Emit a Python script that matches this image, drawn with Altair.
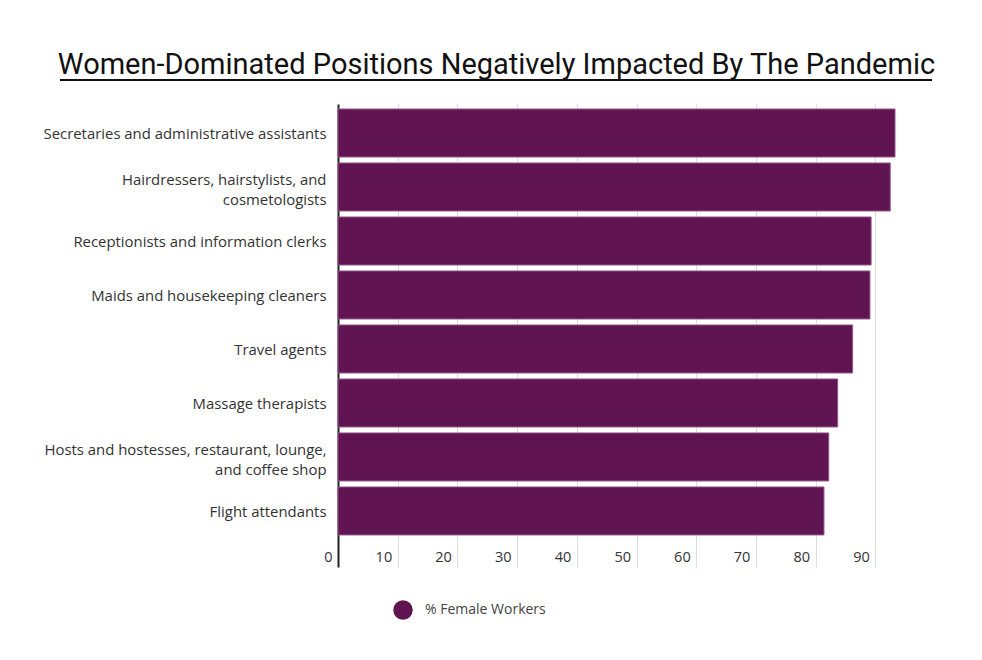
import altair as alt
import pandas as pd

categories = [
    "Secretaries and administrative assistants",
    "Hairdressers, hairstylists, and|cosmetologists",
    "Receptionists and information clerks",
    "Maids and housekeeping cleaners",
    "Travel agents",
    "Massage therapists",
    "Hosts and hostesses, restaurant, lounge,|and coffee shop",
    "Flight attendants",
]
values = [93.3, 92.5, 89.3, 89.1, 86.2, 83.7, 82.2, 81.4]
series = "% Female Workers"
x_ticks = [0, 10, 20, 30, 40, 50, 60, 70, 80, 90]
title_text = "Women-Dominated Positions Negatively Impacted By The Pandemic"

df = pd.DataFrame({"job": categories, "pct": values, "series": [series] * len(categories)})

bars = (
    alt.Chart(df)
    .mark_bar(stroke="#93558a", strokeWidth=1)
    .encode(
        x=alt.X(
            "pct:Q",
            scale=alt.Scale(domain=[0, 100], nice=False),
            axis=alt.Axis(
                values=x_ticks,
                title=None,
                domain=False,
                ticks=False,
                grid=True,
                gridColor="#dddddd",
                gridWidth=1,
                labelAlign="right",
                labelOffset=-6,
                labelPadding=-17,
                labelFont="Open Sans",
                labelFontSize=14.5,
                labelColor="#333333",
            ),
        ),
        y=alt.Y(
            "job:N",
            sort=categories,
            scale=alt.Scale(paddingInner=0.111, paddingOuter=0.343, align=0.135),
            axis=alt.Axis(
                title=None,
                domain=True,
                domainColor="#222222",
                domainWidth=2,
                ticks=False,
                labelExpr="split(datum.label, '|')",
                labelLineHeight=19.5,
                labelPadding=12,
                labelOffset={
                    "condition": {"test": "indexof(datum.value, '|') >= 0", "value": -5.5},
                    "value": 2,
                },
                labelFont="Open Sans",
                labelFontSize=14.9,
                labelColor="#333333",
                labelLimit=400,
            ),
        ),
        color=alt.Color(
            "series:N",
            scale=alt.Scale(range=["#611452"]),
            legend=alt.Legend(
                title=None,
                orient="none",
                legendX=55,
                legendY=496,
                symbolType="circle",
                symbolSize=380,
                symbolStrokeWidth=0,
                labelFont="Open Sans",
                labelFontSize=14,
                labelColor="#444444",
                labelOffset=12,
            ),
        ),
    )
)

underline = alt.Chart(df).mark_rule(color="#111111", strokeWidth=2).encode(
    x=alt.value(-278), x2=alt.value(594), y=alt.value(-24)
)

chart = (
    alt.layer(bars, underline)
    .properties(
        width=597,
        height=463,
        autosize=alt.AutoSizeParams(type="none"),
        padding={"left": 330, "top": 96, "right": 30, "bottom": 80},
        title=alt.TitleParams(
            text=title_text,
            font="Roboto",
            fontSize=29,
            fontWeight="normal",
            color="#111111",
            anchor="middle",
            frame="group",
            dx=-140,
            offset=-1,
        ),
    )
    .configure_view(stroke=None)
)

chart.save("out.html", embed_options={"renderer": "svg", "actions": False})
